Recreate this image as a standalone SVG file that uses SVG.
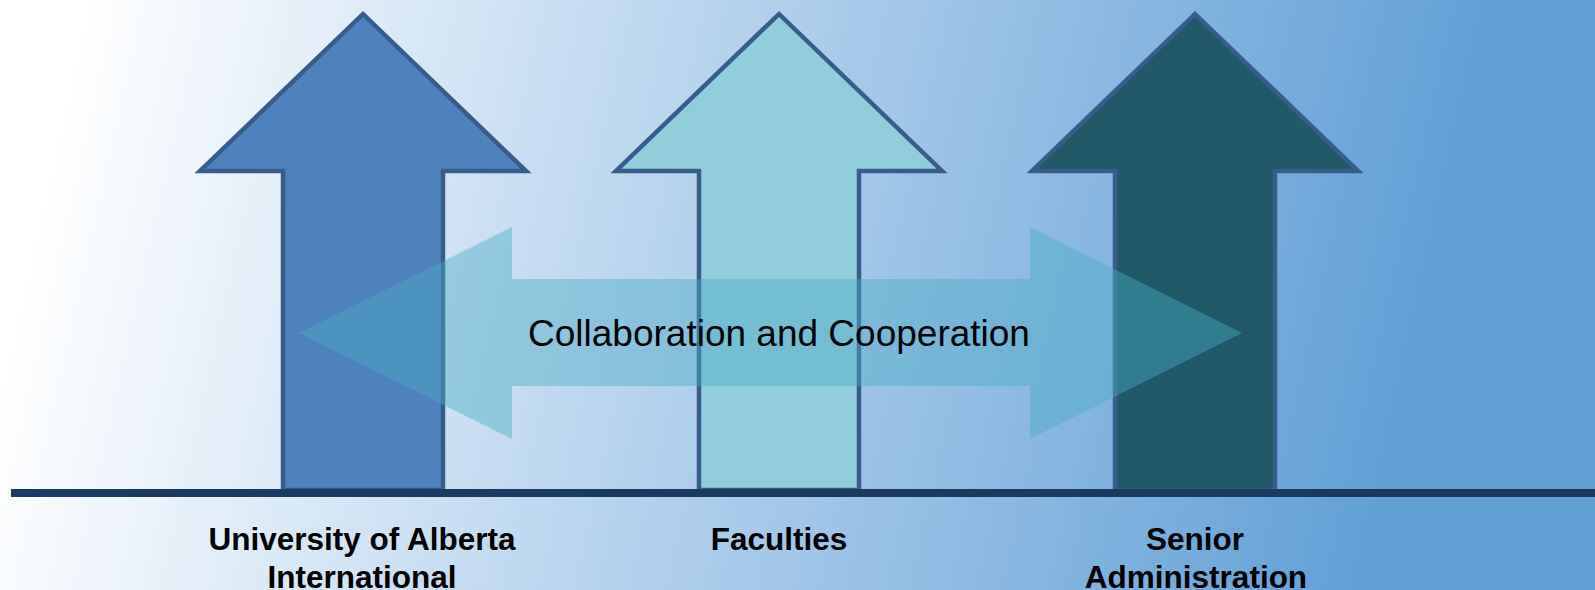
<svg xmlns="http://www.w3.org/2000/svg" width="1595" height="590" viewBox="0 0 1595 590">
  <defs>
    <linearGradient id="bg" gradientUnits="userSpaceOnUse" x1="60" y1="100" x2="1400" y2="400">
      <stop offset="0" stop-color="#ffffff"/>
      <stop offset="0.5" stop-color="#b0cfec"/>
      <stop offset="1" stop-color="#62a0d6"/>
    </linearGradient>
  </defs>
  <style>
    .up { stroke: #385d8a; stroke-width: 4.5; stroke-linejoin: miter; }
    .label { font-family: "Liberation Sans", Arial, sans-serif; font-weight: bold; font-size: 31.5px; fill: #000000; text-anchor: middle; }
    .mid { font-family: "Liberation Sans", Arial, sans-serif; font-size: 37px; fill: #000000; text-anchor: middle; }
  </style>

  <!-- backdrop -->
  <rect x="0" y="0" width="1595" height="590" fill="url(#bg)"/>

  <!-- upward arrows -->
  <g id="node-uai">
    <polygon class="up" fill="#4f81bd" points="363,14 526,171 443,171 443,490 283,490 283,171 200,171"/>
  </g>
  <g id="node-faculties">
    <polygon class="up" fill="#92cddc" points="779,14 942,171 859,171 859,490 699,490 699,171 616,171"/>
  </g>
  <g id="node-senior">
    <polygon class="up" fill="#215968" points="1195,14 1358,171 1275,171 1275,490 1115,490 1115,171 1032,171"/>
  </g>

  <!-- ground line and two-way arrow -->
  <g id="connectors">
    <rect x="11" y="489" width="1584" height="8" fill="#1b3a5f"/>
    <polygon fill="#4bacc6" fill-opacity="0.43" points="299,333 512,227 512,279 1030,279 1030,227 1242,333 1030,439 1030,386 512,386 512,439"/>
    <text class="mid" x="779" y="346">Collaboration and Cooperation</text>
  </g>

  <!-- labels -->
  <g id="labels">
    <text class="label" x="362" y="549.5">University of Alberta</text>
    <text class="label" x="362" y="588">International</text>
    <text class="label" x="779" y="549.5">Faculties</text>
    <text class="label" x="1195" y="549.5">Senior</text>
    <text class="label" x="1196" y="588">Administration</text>
  </g>
</svg>
